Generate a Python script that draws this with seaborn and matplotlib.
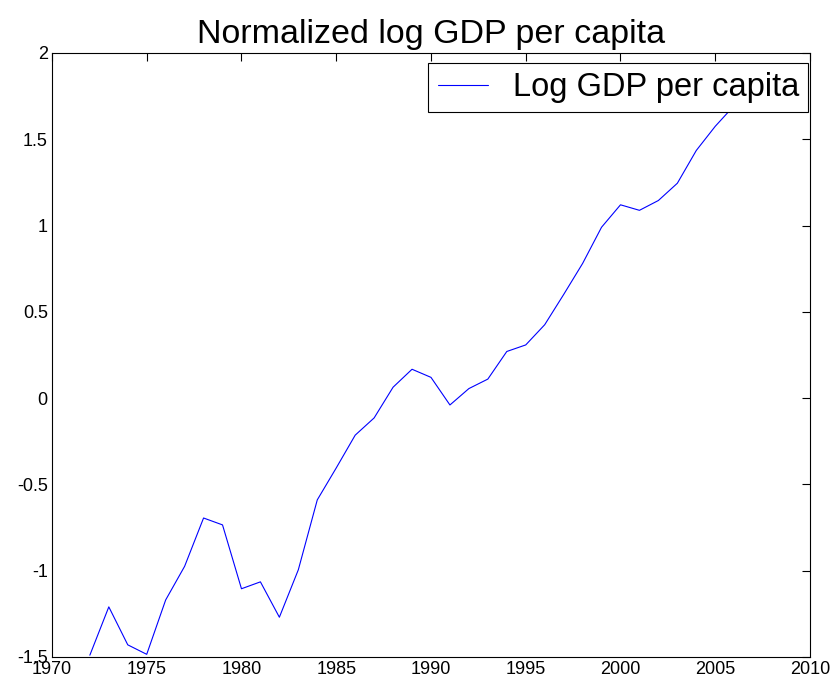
import numpy as np
import pandas as pd
import matplotlib
matplotlib.use("Agg")
import matplotlib.pyplot as plt
import seaborn as sns

# values
years = [1972, 1973, 1974, 1975, 1976, 1977, 1978, 1979, 1980, 1981,
         1982, 1983, 1984, 1985, 1986, 1987, 1988, 1989, 1990, 1991,
         1992, 1993, 1994, 1995, 1996, 1997, 1998, 1999, 2000, 2001,
         2002, 2003, 2004, 2005, 2006, 2007]
log_gdp = [-1.49, -1.21, -1.43, -1.485, -1.17, -0.975, -0.695, -0.735, -1.105, -1.065,
           -1.27, -0.995, -0.59, -0.405, -0.215, -0.115, 0.063, 0.167, 0.12, -0.04,
           0.055, 0.11, 0.27, 0.308, 0.425, 0.6, 0.78, 0.99, 1.12, 1.088,
           1.145, 1.245, 1.435, 1.575, 1.695, 1.83]

df = pd.DataFrame({"year": years, "value": log_gdp})

sns.set_style("white")
plt.rcParams["font.family"] = ["Liberation Sans", "DejaVu Sans"]
plt.rcParams["text.color"] = "black"

fig = plt.figure(figsize=(8.38, 6.85), dpi=100)
ax = fig.add_axes([0.062, 0.041, 0.9046, 0.8817])

sns.lineplot(data=df, x="year", y="value", ax=ax, color="#0000ff",
             linewidth=0.8, label="Log GDP per capita")

ax.set_xlim(1970, 2010)
ax.set_ylim(-1.5, 2)
ax.set_xticks(np.arange(1970, 2011, 5))
ax.set_yticks([-1.5, -1, -0.5, 0, 0.5, 1, 1.5, 2])
ax.set_yticklabels(["-1.5", "-1", "-0.5", "0", "0.5", "1", "1.5", "2"])
ax.set_xlabel("")
ax.set_ylabel("")

ax.tick_params(direction="in", length=6, width=0.8, top=True, right=True,
               labelsize=13, colors="black", pad=3)
for s in ax.spines.values():
    s.set_visible(True)
    s.set_color("black")
    s.set_linewidth(0.8)

ax.set_title("Normalized log GDP per capita", fontsize=24.5, pad=7, color="black")

leg = ax.legend(loc="upper right", bbox_to_anchor=(0.9974, 0.9834), fontsize=23.5,
                fancybox=False, framealpha=1, edgecolor="black", borderaxespad=0,
                handlelength=1.55, borderpad=0.28, handletextpad=0.75)
leg.get_frame().set_linewidth(0.8)
for t in leg.get_texts():
    t.set_color("black")

fig.savefig("out.png", dpi=100)
